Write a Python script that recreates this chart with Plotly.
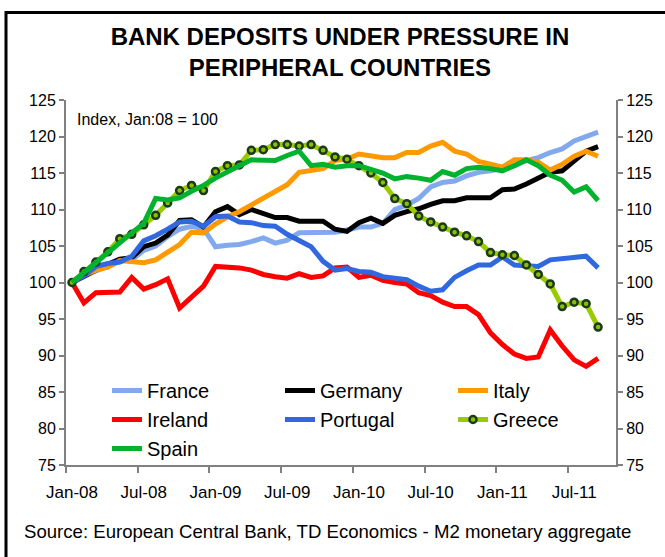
import numpy as np
import pandas as pd
import plotly.graph_objects as go

# ---- data (monthly index, Jan-08 = 100) ----
months = list(pd.date_range("2008-01-01", periods=45, freq="MS").strftime("%b-%y"))

france = [100.0, 100.8, 101.6, 102.2, 102.9, 103.1, 104.4, 105.0, 106.3, 107.3,
          107.7, 107.4, 104.9, 105.1, 105.2, 105.6, 106.1, 105.4, 105.8, 106.8,
          106.8, 106.8, 106.9, 107.2, 107.6, 107.6, 108.1, 110.0, 110.6, 111.5,
          113.1, 113.7, 113.9, 114.6, 115.1, 115.3, 115.6, 116.0, 116.7, 117.1,
          117.8, 118.3, 119.4, 120.0, 120.6]
germany = [100.0, 100.9, 101.7, 102.5, 103.2, 103.4, 104.9, 105.4, 106.5, 108.5,
           108.6, 107.6, 109.7, 110.4, 109.3, 110.0, 109.4, 108.9, 108.9, 108.4,
           108.4, 108.4, 107.3, 107.0, 108.2, 108.8, 108.1, 109.2, 109.7, 110.1,
           110.7, 111.2, 111.2, 111.6, 111.6, 111.6, 112.7, 112.8, 113.5, 114.3,
           115.1, 115.3, 116.7, 118.0, 118.6]
italy = [100.0, 101.0, 101.7, 102.1, 103.0, 102.9, 102.7, 103.1, 104.2, 105.2,
         106.9, 106.8, 108.0, 109.0, 109.7, 110.6, 111.5, 112.5, 113.4, 115.1,
         115.3, 115.6, 116.7, 116.9, 117.6, 117.4, 117.1, 117.1, 117.8, 117.8,
         118.7, 119.2, 118.0, 117.6, 116.6, 116.2, 115.8, 116.8, 116.8, 116.5,
         115.4, 116.2, 117.3, 118.0, 117.3]
ireland = [100.0, 97.2, 98.6, 98.6, 98.7, 100.7, 99.1, 99.7, 100.5, 96.5,
           97.9, 99.5, 102.2, 102.1, 102.0, 101.7, 101.1, 100.8, 100.6, 101.2,
           100.7, 100.9, 102.0, 102.1, 100.7, 101.0, 100.3, 100.0, 99.8, 98.6,
           98.2, 97.3, 96.7, 96.7, 95.6, 93.1, 91.5, 90.2, 89.6, 89.8,
           93.5, 91.3, 89.4, 88.5, 89.6]
portugal = [100.0, 100.9, 102.2, 102.6, 102.8, 103.6, 105.7, 106.4, 107.3, 108.3,
            108.4, 107.7, 109.0, 109.1, 108.3, 108.2, 107.8, 107.7, 106.6, 105.8,
            104.9, 102.9, 101.7, 101.9, 101.5, 101.4, 100.8, 100.6, 100.4, 99.5,
            98.8, 99.0, 100.7, 101.6, 102.4, 102.4, 103.5, 102.4, 102.3, 102.2,
            103.1, 103.3, 103.5, 103.6, 102.0]
greece = [100.0, 101.5, 102.8, 104.2, 106.0, 106.6, 107.9, 109.2, 110.9, 112.6,
          113.3, 112.6, 115.2, 116.0, 116.1, 118.1, 118.2, 118.9, 118.9, 118.7,
          118.9, 118.1, 117.2, 116.9, 116.0, 115.0, 113.7, 111.5, 110.8, 109.1,
          108.3, 107.6, 106.9, 106.4, 105.6, 104.1, 103.8, 103.7, 102.4, 101.1,
          99.8, 96.7, 97.3, 97.1, 93.9]
spain = [100.0, 101.4, 102.7, 104.1, 105.4, 106.8, 108.1, 111.5, 111.3, 111.6,
         112.5, 113.3, 114.3, 115.2, 116.0, 116.8, 116.8, 116.7, 117.4, 118.0,
         116.0, 116.2, 115.8, 116.0, 116.0, 115.5, 115.0, 114.2, 114.5, 114.3,
         114.0, 115.2, 114.7, 115.6, 115.8, 115.6, 115.3, 116.0, 116.8, 116.0,
         114.7, 114.0, 112.4, 113.1, 111.2]

y_ticks = [75, 80, 85, 90, 95, 100, 105, 110, 115, 120, 125]

FONT = "Liberation Sans, Arial, sans-serif"
x = np.arange(len(months))
label_idx = x[::6]
label_text = [months[i] for i in label_idx]
boundaries = [i - 0.5 for i in label_idx]

fig = go.Figure()

def add_line(name, vals, color, yaxis="y"):
    fig.add_trace(go.Scatter(x=x, y=vals, name=name, mode="lines",
                             line=dict(color=color, width=5),
                             yaxis=yaxis))

add_line("France", france, "#82A9EE")
add_line("Germany", germany, "#000000")
add_line("Italy", italy, "#FF9900")
add_line("Ireland", ireland, "#FF0000")
add_line("Portugal", portugal, "#3068E0")
fig.add_trace(go.Scatter(x=x, y=greece, name="Greece", mode="lines+markers",
                         line=dict(color="#99CC00", width=5),
                         marker=dict(symbol="circle", size=7, color="#8DBE00",
                                     line=dict(color="#1A3A1A", width=2.5))))
add_line("Spain", spain, "#00B22D", yaxis="y2")

axis_gray = "#808080"
yax = dict(range=[75, 125], tickvals=y_ticks, ticks="outside", ticklen=5,
           tickcolor=axis_gray, tickwidth=1.5, showline=True, linecolor=axis_gray,
           linewidth=2, showgrid=False, zeroline=False,
           tickfont=dict(family=FONT, size=16, color="#000000"))

fig.update_layout(
    width=665, height=557, autosize=False,
    margin=dict(l=66, r=49, t=100, b=92),
    paper_bgcolor="white", plot_bgcolor="white",
    font=dict(family=FONT, color="#000000"),
    title=dict(text="<b>BANK DEPOSITS UNDER PRESSURE IN<br>PERIPHERAL COUNTRIES</b>",
               font=dict(family=FONT, size=24, color="#000000"),
               x=340 / 665, xanchor="center", xref="container",
               y=1 - 45 / 557, yanchor="top", yref="container"),
    xaxis=dict(range=[-0.5, 45.5], tickvals=label_idx, ticktext=label_text,
               ticks="", showline=True, linecolor=axis_gray, linewidth=2,
               showgrid=False, zeroline=False, ticklabelstandoff=11,
               tickfont=dict(family=FONT, size=17, color="#000000"),
               minor=dict(tickvals=boundaries, ticks="outside", ticklen=6,
                          tickcolor=axis_gray, tickwidth=1.5, showgrid=False)),
    yaxis=dict(side="left", **yax),
    yaxis2=dict(side="right", overlaying="y", **yax),
    showlegend=True,
    legend=dict(orientation="h", x=(107 - 66) / 550, xanchor="left",
                y=(465 - 371) / 365, yanchor="top",
                entrywidth=128, entrywidthmode="pixels",
                bgcolor="rgba(0,0,0,0)", borderwidth=0,
                font=dict(family=FONT, size=20, color="#000000"),
                traceorder="normal"),
)

fig.add_annotation(text="Index, Jan:08 = 100", xref="paper", yref="paper",
                   x=(75 - 66) / 550, y=(465 - 119) / 365, xanchor="left",
                   yanchor="middle", showarrow=False,
                   font=dict(family=FONT, size=16, color="#000000"))
fig.add_annotation(text="Source: European Central Bank, TD Economics - M2 monetary aggregate",
                   xref="paper", yref="paper", x=(22 - 66) / 550, y=(465 - 531) / 365,
                   xanchor="left", yanchor="middle", showarrow=False,
                   font=dict(family=FONT, size=18.6, color="#000000"))

# outer frame
fig.add_shape(type="rect", xref="paper", yref="paper",
              x0=(6 - 66) / 550, x1=(668 - 66) / 550,
              y0=(465 - 562) / 365, y1=(465 - 12.5) / 365,
              line=dict(color="#000000", width=3), fillcolor="rgba(0,0,0,0)",
              layer="above")

fig.write_html("out.html")
